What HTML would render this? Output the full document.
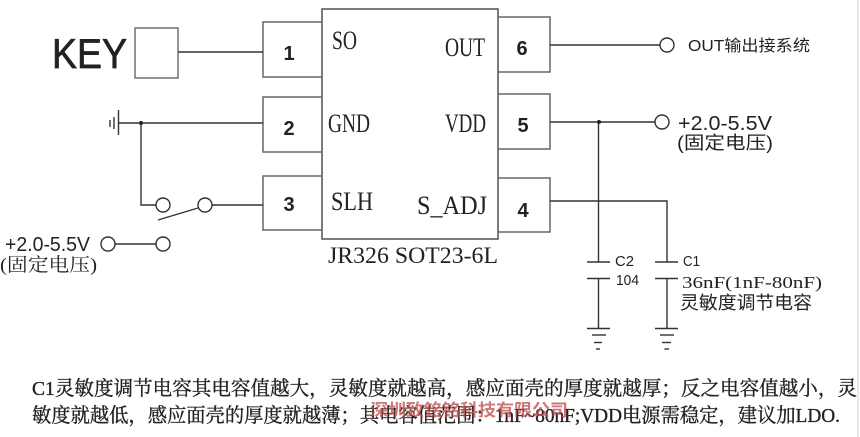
<!DOCTYPE html>
<html><head><meta charset="utf-8"><style>
html,body{margin:0;padding:0;background:#fff;}
svg{display:block;}
.s{font-family:"Liberation Sans","Noto Sans CJK SC",sans-serif;}
.r{font-family:"Liberation Serif","Noto Serif CJK SC",serif;}
</style></head><body>
<svg width="860" height="437" viewBox="0 0 860 437" xmlns="http://www.w3.org/2000/svg">
<rect width="860" height="437" fill="#fff"/>
<line x1="858" y1="0" x2="858" y2="437" stroke="#e2e2e2" stroke-width="1.5"/>
<g fill="none" stroke="#333" stroke-width="1.4">
<!-- chip -->
<rect x="322" y="9" width="176" height="230" stroke="#444"/>
<!-- pin boxes -->
<g stroke="#666" stroke-width="1.5">
<polyline points="322,22 263,22 263,77 322,77"/>
<polyline points="322,97 263,97 263,152 322,152"/>
<polyline points="322,176 263,176 263,230 322,230"/>
<polyline points="498,17 550,17 550,72 498,72"/>
<polyline points="498,94 550,94 550,149 498,149"/>
<polyline points="498,178 550,178 550,232 498,232"/>
</g>
<!-- KEY box -->
<rect x="135" y="28" width="43" height="50" stroke="#666"/>
<line x1="178" y1="52" x2="263" y2="52"/>
<!-- GND -->
<line x1="118" y1="123" x2="263" y2="123"/>
<line x1="118.5" y1="110" x2="118.5" y2="135"/>
<line x1="114" y1="117" x2="114" y2="129"/>
<line x1="110" y1="120" x2="110" y2="127"/>
<polyline points="141,123 141,205 156,205"/>
<circle cx="163" cy="205" r="7"/>
<circle cx="205" cy="205" r="7"/>
<line x1="212" y1="205" x2="263" y2="205"/>
<line x1="158" y1="220" x2="198" y2="208"/>
<circle cx="108" cy="244" r="7"/>
<circle cx="163" cy="244" r="7"/>
<line x1="115" y1="244" x2="156" y2="244"/>
<!-- right side -->
<line x1="550" y1="45" x2="660" y2="45"/>
<circle cx="667" cy="45" r="7"/>
<line x1="550" y1="122" x2="655" y2="122"/>
<circle cx="662" cy="122" r="7"/>
<polyline points="550,201 667,201 667,262"/>
<line x1="598.5" y1="122" x2="598.5" y2="262"/>
<!-- C2 -->
<line x1="587" y1="262" x2="610" y2="262"/>
<line x1="587" y1="278.5" x2="610" y2="278.5"/>
<line x1="598.5" y1="278.5" x2="598.5" y2="328"/>
<line x1="587" y1="328.5" x2="610" y2="328.5"/>
<line x1="592" y1="335" x2="606" y2="335"/>
<line x1="594" y1="342.5" x2="602" y2="342.5"/>
<line x1="596" y1="349" x2="600" y2="349"/>
<!-- C1 -->
<line x1="655" y1="262" x2="678" y2="262"/>
<line x1="655" y1="278.5" x2="678" y2="278.5"/>
<line x1="667" y1="278.5" x2="667" y2="328"/>
<line x1="655" y1="328.5" x2="678" y2="328.5"/>
<line x1="660" y1="335" x2="674" y2="335"/>
<line x1="662" y1="342.5" x2="671" y2="342.5"/>
<line x1="664.5" y1="349" x2="669" y2="349"/>
</g>
<circle cx="141" cy="123" r="2" fill="#222"/>
<circle cx="599" cy="122" r="2" fill="#222"/>
<!-- texts -->
<g fill="#222">
<text class="s" x="52" y="68" font-size="42" stroke="#222" stroke-width="0.7" textLength="75" lengthAdjust="spacingAndGlyphs">KEY</text>
<g class="s" font-size="20" font-weight="bold" text-anchor="middle">
<text x="289" y="60">1</text>
<text x="289" y="135">2</text>
<text x="289" y="211">3</text>
<text x="522" y="55">6</text>
<text x="523" y="132">5</text>
<text x="523" y="217">4</text>
</g>
<g class="r" font-size="26">
<text x="332" y="49" textLength="25" lengthAdjust="spacingAndGlyphs">SO</text>
<text x="328" y="132" textLength="42" lengthAdjust="spacingAndGlyphs">GND</text>
<text x="331" y="210" textLength="42" lengthAdjust="spacingAndGlyphs">SLH</text>
<text x="445" y="56" textLength="40" lengthAdjust="spacingAndGlyphs">OUT</text>
<text x="445" y="132" textLength="41" lengthAdjust="spacingAndGlyphs">VDD</text>
<text x="417" y="214" textLength="70" lengthAdjust="spacingAndGlyphs">S_ADJ</text>
</g>
<text class="r" x="328" y="263" font-size="23" textLength="170" lengthAdjust="spacingAndGlyphs">JR326 SOT23-6L</text>
<text class="s" x="688" y="51" font-size="16" textLength="122" lengthAdjust="spacingAndGlyphs">OUT输出接系统</text>
<text class="s" x="678" y="130" font-size="20" textLength="94" lengthAdjust="spacingAndGlyphs">+2.0-5.5V</text>
<text class="s" x="677" y="149" font-size="18" textLength="96" lengthAdjust="spacingAndGlyphs">(固定电压)</text>
<text class="s" x="5" y="251" font-size="20" textLength="85" lengthAdjust="spacingAndGlyphs">+2.0-5.5V</text>
<text class="r" x="0" y="271" font-size="19" textLength="97" lengthAdjust="spacingAndGlyphs">(固定电压)</text>
<g class="s" font-size="15">
<text x="615" y="266" textLength="19" lengthAdjust="spacingAndGlyphs">C2</text>
<text x="616" y="285" textLength="23" lengthAdjust="spacingAndGlyphs">104</text>
<text x="683" y="266" textLength="17" lengthAdjust="spacingAndGlyphs">C1</text>
</g>
<text class="r" x="682" y="288" font-size="17" textLength="140" lengthAdjust="spacingAndGlyphs">36nF(1nF-80nF)</text>
<text class="s" x="680" y="309" font-size="18" textLength="132" lengthAdjust="spacingAndGlyphs">灵敏度调节电容</text>
<g class="r" font-size="20" fill="#222" stroke="#222" stroke-width="0.35">
<text x="32" y="395" textLength="825" lengthAdjust="spacingAndGlyphs">C1灵敏度调节电容其电容值越大，灵敏度就越高，感应面壳的厚度就越厚；反之电容值越小，灵</text>
<text x="32" y="422" textLength="808" lengthAdjust="spacingAndGlyphs">敏度就越低，感应面壳的厚度就越薄；其电容值范围：1nF~80nF;VDD电源需稳定，建议加LDO.</text>
</g>
<text class="s" x="370" y="416" font-size="17" font-weight="bold" fill="#c04848" fill-opacity="0.75" textLength="198" lengthAdjust="spacingAndGlyphs">深圳致铭铭科技有限公司</text>
</g>
</svg>
</body></html>
